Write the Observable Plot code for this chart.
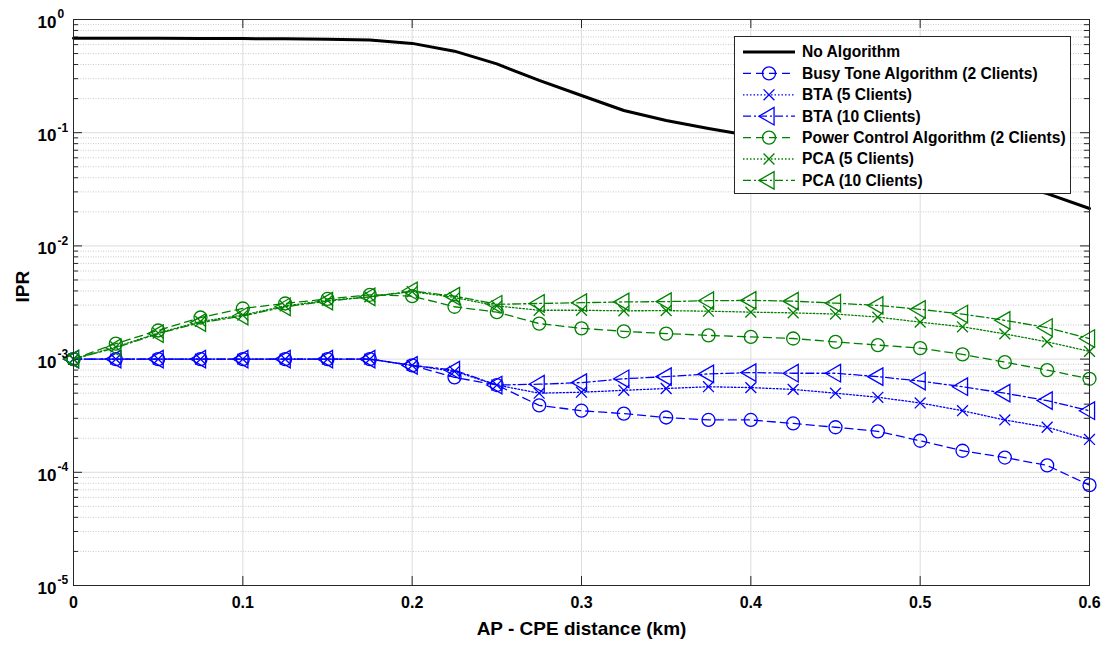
<!DOCTYPE html>
<html>
<head>
<meta charset="utf-8">
<script src="https://cdn.jsdelivr.net/npm/d3@7"></script>
<script src="https://cdn.jsdelivr.net/npm/@observablehq/plot@0.6"></script>
<style>
  html, body { margin: 0; padding: 0; background: #fff; }
  #chart svg { font-family: "Liberation Sans", Arial, sans-serif; display: block; }
</style>
</head>
<body>
<div id="chart"></div>
<script>
// ---------- data ----------
const distance = [0, 0.025, 0.05, 0.075, 0.1, 0.125, 0.15, 0.175, 0.2, 0.225, 0.25, 0.275, 0.3,
                  0.325, 0.35, 0.375, 0.4, 0.425, 0.45, 0.475, 0.5, 0.525, 0.55, 0.575, 0.6];

const noAlgorithm = [0.684, 0.683, 0.682, 0.681, 0.678, 0.675, 0.670, 0.660, 0.615, 0.525, 0.405, 0.290, 0.213,
                     0.157, 0.128, 0.109, 0.094, 0.082, 0.071, 0.061, 0.052, 0.044, 0.036, 0.029, 0.0214];

const bta2  = [1e-3, 1e-3, 1e-3, 1e-3, 1e-3, 1e-3, 1e-3, 1e-3, 8.8e-4, 6.9e-4, 5.9e-4, 3.9e-4, 3.5e-4,
               3.3e-4, 3.05e-4, 2.9e-4, 2.9e-4, 2.7e-4, 2.5e-4, 2.3e-4, 1.9e-4, 1.55e-4, 1.35e-4, 1.15e-4, 7.7e-5];
const bta5  = [1e-3, 1e-3, 1e-3, 1e-3, 1e-3, 1e-3, 1e-3, 1e-3, 8.8e-4, 7.8e-4, 5.9e-4, 5.0e-4, 5.1e-4,
               5.3e-4, 5.5e-4, 5.7e-4, 5.6e-4, 5.4e-4, 5.0e-4, 4.6e-4, 4.1e-4, 3.5e-4, 2.9e-4, 2.5e-4, 1.95e-4];
const bta10 = [1e-3, 1e-3, 1e-3, 1e-3, 1e-3, 1e-3, 1e-3, 1e-3, 8.8e-4, 8.0e-4, 5.9e-4, 6.0e-4, 6.2e-4,
               6.7e-4, 7.0e-4, 7.4e-4, 7.6e-4, 7.5e-4, 7.5e-4, 7.0e-4, 6.4e-4, 5.7e-4, 5.0e-4, 4.3e-4, 3.5e-4];
const pca2  = [1e-3, 1.37e-3, 1.79e-3, 2.33e-3, 2.8e-3, 3.1e-3, 3.4e-3, 3.7e-3, 3.6e-3, 2.9e-3, 2.6e-3, 2.06e-3, 1.87e-3,
               1.76e-3, 1.68e-3, 1.62e-3, 1.57e-3, 1.52e-3, 1.42e-3, 1.33e-3, 1.25e-3, 1.1e-3, 9.4e-4, 8.0e-4, 6.7e-4];
const pca5  = [1e-3, 1.28e-3, 1.7e-3, 2.15e-3, 2.45e-3, 2.95e-3, 3.3e-3, 3.55e-3, 3.95e-3, 3.5e-3, 2.95e-3, 2.7e-3, 2.7e-3,
               2.67e-3, 2.68e-3, 2.65e-3, 2.6e-3, 2.56e-3, 2.5e-3, 2.35e-3, 2.12e-3, 1.93e-3, 1.67e-3, 1.42e-3, 1.17e-3];
const pca10 = [1e-3, 1.26e-3, 1.68e-3, 2.1e-3, 2.4e-3, 2.9e-3, 3.25e-3, 3.55e-3, 4.0e-3, 3.6e-3, 3.05e-3, 3.1e-3, 3.15e-3,
               3.2e-3, 3.22e-3, 3.28e-3, 3.3e-3, 3.25e-3, 3.12e-3, 2.98e-3, 2.75e-3, 2.5e-3, 2.2e-3, 1.9e-3, 1.52e-3];

const seriesNames = ["No Algorithm", "Busy Tone Algorithm (2 Clients)", "BTA (5 Clients)", "BTA (10 Clients)",
                     "Power Control Algorithm (2 Clients)", "PCA (5 Clients)", "PCA (10 Clients)"];

const xTicks = [0, 0.1, 0.2, 0.3, 0.4, 0.5, 0.6];
const xTickLabels = ["0", "0.1", "0.2", "0.3", "0.4", "0.5", "0.6"];
const yDecades = [1, 1e-1, 1e-2, 1e-3, 1e-4, 1e-5];
const yExponents = ["0", "-1", "-2", "-3", "-4", "-5"];
const xTitle = "AP - CPE distance (km)";
const yTitle = "IPR";

// ---------- styles ----------
const BLUE = "#0000ff", GREEN = "#008000";
const styles = [
  {values: noAlgorithm, color: "#000", dash: null, width: 3, symbol: null},
  {values: bta2,  color: BLUE,  dash: "8,5",        width: 1.3, symbol: "circle"},
  {values: bta5,  color: BLUE,  dash: "1.5,2",      width: 1.3, symbol: "times"},
  {values: bta10, color: BLUE,  dash: "8,3,2,3",    width: 1.3, symbol: "triangle"},
  {values: pca2,  color: GREEN, dash: "8,5",        width: 1.3, symbol: "circle"},
  {values: pca5,  color: GREEN, dash: "1.5,2",      width: 1.3, symbol: "times"},
  {values: pca10, color: GREEN, dash: "8,3,2,3",    width: 1.3, symbol: "triangle"}
];
const series = styles.map((s, i) => ({...s, name: seriesNames[i],
  data: distance.map((d, j) => ({x: d, y: s.values[j], name: seriesNames[i]}))}));

const minorY = yDecades.slice(1).flatMap(d => [2,3,4,5,6,7,8,9].map(k => k * d));

// ---------- layout ----------
const W = 1109, H = 646;
const mL = 73, mR = 20, mT = 19, mB = 61;
const pw = W - mL - mR, ph = H - mT - mB;
const AX = "#262626";

const symbolR = {circle: 6.5, times: 5, triangle: 6.5};
const symbolRot = {circle: 0, times: 0, triangle: -90};

const marks = [
  // grid
  Plot.ruleY(minorY, {stroke: "#bdbdbd", strokeDasharray: "1,1.5", strokeWidth: 0.8}),
  Plot.ruleY(yDecades.slice(1, -1), {stroke: "#dcdcdc", strokeWidth: 1}),
  Plot.ruleX(xTicks.slice(1, -1), {stroke: "#dcdcdc", strokeWidth: 1}),
  // ticks (inward, both sides)
  Plot.ruleY(yDecades, {stroke: AX, insetRight: pw - 9}),
  Plot.ruleY(yDecades, {stroke: AX, insetLeft: pw - 9}),
  Plot.ruleY(minorY, {stroke: AX, insetRight: pw - 5}),
  Plot.ruleY(minorY, {stroke: AX, insetLeft: pw - 5}),
  Plot.ruleX(xTicks, {stroke: AX, insetTop: ph - 9}),
  Plot.ruleX(xTicks, {stroke: AX, insetBottom: ph - 9}),
];

for (const s of series) {
  marks.push(Plot.line(s.data, {x: "x", y: "y", stroke: s.color, strokeWidth: s.width,
    strokeDasharray: s.dash ?? undefined, curve: "linear"}));
  if (s.symbol) {
    marks.push(Plot.dot(s.data, {x: "x", y: "y", symbol: s.symbol, r: symbolR[s.symbol],
      rotate: symbolRot[s.symbol], stroke: s.color, fill: "none", strokeWidth: 1.3}));
  }
}

marks.push(
  Plot.frame({stroke: AX, strokeWidth: 1}),
  // y tick labels: "10" + superscript exponent
  Plot.text(yDecades, {y: d => d, frameAnchor: "left", dx: -17, dy: 3, text: () => "10",
    textAnchor: "end", fontSize: 17, fontWeight: "bold", fill: "#000"}),
  Plot.text(yDecades, {y: d => d, frameAnchor: "left", dx: -16, dy: -5, text: (d, i) => yExponents[i],
    textAnchor: "start", fontSize: 12, fontWeight: "bold", fill: "#000"}),
  // x tick labels
  Plot.text(xTicks, {x: d => d, frameAnchor: "bottom", dy: 22, text: (d, i) => xTickLabels[i],
    fontSize: 16, fontWeight: "bold", fill: "#000"}),
  // axis titles
  Plot.text([xTitle], {frameAnchor: "bottom", dy: 49, text: d => d, fontSize: 19, fontWeight: "bold", fill: "#000"}),
  Plot.text([yTitle], {frameAnchor: "left", dx: -51, rotate: -90, text: d => d, fontSize: 19, fontWeight: "bold", fill: "#000"})
);

const chart = Plot.plot({
  width: W, height: H,
  marginLeft: mL, marginRight: mR, marginTop: mT, marginBottom: mB,
  x: {domain: [0, 0.6], axis: null},
  y: {type: "log", domain: [1e-5, 1], axis: null},
  style: {background: "#fff", overflow: "visible"},
  marks
});
document.getElementById("chart").append(chart);

// ---------- legend (inside the axes, top right) ----------
const svg = d3.select(chart);
const lg = {x: 734, y: 36, w: 336, h: 157, row0: 16, rowH: 21.4};
const g = svg.append("g").attr("class", "legend").attr("text-anchor", "start");
g.append("rect").attr("x", lg.x + 0.5).attr("y", lg.y + 0.5).attr("width", lg.w).attr("height", lg.h)
  .attr("fill", "#fff").attr("stroke", AX).attr("stroke-width", 1);
series.forEach((s, i) => {
  const cy = lg.y + lg.row0 + i * lg.rowH;
  const x0 = lg.x + 9, x1 = lg.x + 61, cx = (x0 + x1) / 2;
  g.append("line").attr("x1", x0).attr("x2", x1).attr("y1", cy).attr("y2", cy)
    .attr("stroke", s.color).attr("stroke-width", s.width)
    .attr("stroke-dasharray", s.dash ?? null);
  if (s.symbol) {
    const sym = {circle: d3.symbolCircle, times: d3.symbolTimes, triangle: d3.symbolTriangle}[s.symbol];
    const r = symbolR[s.symbol];
    g.append("path").attr("d", d3.symbol(sym, Math.PI * r * r)())
      .attr("transform", `translate(${cx},${cy}) rotate(${symbolRot[s.symbol]})`)
      .attr("fill", "none").attr("stroke", s.color).attr("stroke-width", 1.3);
  }
  g.append("text").attr("x", lg.x + 68).attr("y", cy).attr("dy", "0.35em")
    .attr("text-anchor", "start")
    .attr("font-size", 15.6).attr("font-weight", "bold").attr("fill", "#000").text(s.name);
});
</script>
</body>
</html>
